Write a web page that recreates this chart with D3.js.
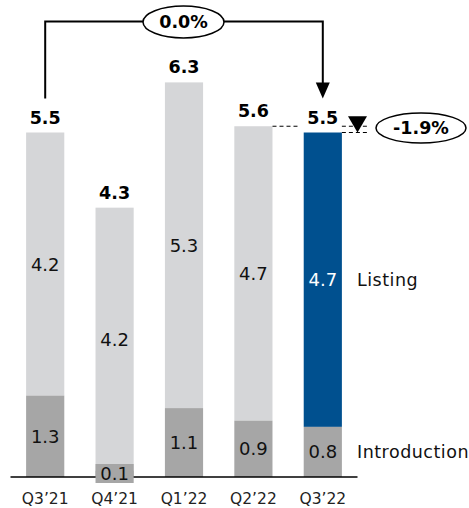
<!DOCTYPE html>
<html><head><meta charset="utf-8">
<script src="https://cdn.jsdelivr.net/npm/d3@7"></script>
<style>html,body{margin:0;padding:0;background:#fff}svg{display:block;font-family:"DejaVu Sans",Verdana,sans-serif}</style>
</head><body><svg id="c" width="469" height="508"></svg>
<script>
const categories = ["Q3\u201921","Q4\u201921","Q1\u201922","Q2\u201922","Q3\u201922"];
const introduction = [1.3, 0.1, 1.1, 0.9, 0.8];
const listing = [4.2, 4.2, 5.3, 4.7, 4.7];
const totals = [5.5, 4.3, 6.3, 5.6, 5.5];
const yoyChange = "0.0%";
const qoqChange = "-1.9%";
const seriesNames = ["Listing", "Introduction"];

const svg = d3.select("#c");
const x = d3.scaleBand().domain(categories).range([10.5, 357.5]).paddingInner(0.45).paddingOuter(0.225);
const y = d3.scaleLinear().domain([0, 5.5]).range([477, 132.5]);
const colIntro = "#a6a6a6", colList = "#d5d6d8", colBlue = "#00508f";
const bw = x.bandwidth();
const cx = c => x(c) + bw / 2;

categories.forEach((c, i) => {
  const top = y(totals[i]), bot = y(introduction[i]);
  svg.append("rect").attr("x", x(c)).attr("y", top).attr("width", bw).attr("height", bot - top)
    .attr("fill", i === 4 ? colBlue : colList);
  svg.append("rect").attr("x", x(c)).attr("y", bot).attr("width", bw).attr("height", y(0) - bot)
    .attr("fill", colIntro);
});

svg.append("line").attr("x1", 10.5).attr("x2", 357.5).attr("y1", y(0)).attr("y2", y(0))
  .attr("stroke", "#000").attr("stroke-width", 1.5);

categories.forEach((c, i) => {
  const top = y(totals[i]), mid = y(introduction[i]);
  svg.append("text").attr("x", cx(c)).attr("y", (top + mid) / 2).attr("dy", "0.36em")
    .attr("text-anchor", "middle").attr("font-size", 18)
    .attr("fill", i === 4 ? "#fff" : "#111").text(listing[i].toFixed(1));
  if (introduction[i] < 0.3) {
    svg.append("rect").attr("x", x(c)).attr("y", y(0) - 13).attr("width", bw).attr("height", 19).attr("fill", colIntro);
    svg.append("text").attr("x", cx(c)).attr("y", y(0) - 3).attr("dy", "0.36em")
      .attr("text-anchor", "middle").attr("font-size", 18).attr("fill", "#111").text(introduction[i].toFixed(1));
  } else {
    svg.append("text").attr("x", cx(c)).attr("y", (mid + y(0)) / 2).attr("dy", "0.36em")
      .attr("text-anchor", "middle").attr("font-size", 18).attr("fill", "#111").text(introduction[i].toFixed(1));
  }
  svg.append("text").attr("x", cx(c)).attr("y", top - 9)
    .attr("text-anchor", "middle").attr("font-size", 17.5).attr("font-weight", "bold").attr("fill", "#000")
    .text(totals[i].toFixed(1));
  svg.append("text").attr("x", cx(c)).attr("y", 504)
    .attr("text-anchor", "middle").attr("font-size", 15.5).attr("fill", "#222").text(c);
});

const last = categories[4];
svg.append("text").attr("x", 357).attr("y", (y(totals[4]) + y(introduction[4])) / 2).attr("dy", "0.36em")
  .attr("font-size", 17.5).attr("letter-spacing", 0.5).attr("fill", "#111").text(seriesNames[0]);
svg.append("text").attr("x", 357).attr("y", (y(introduction[4]) + y(0)) / 2).attr("dy", "0.36em")
  .attr("font-size", 17.5).attr("letter-spacing", 0.5).attr("fill", "#111").text(seriesNames[1]);

const x0 = cx(categories[0]), x4 = cx(last), yTop = 21.5;
svg.append("path").attr("d", `M${x0},${y(totals[0]) - 34} V${yTop} H${x4} V${y(totals[4]) - 48}`)
  .attr("fill", "none").attr("stroke", "#000").attr("stroke-width", 2);
svg.append("path").attr("d", `M${x4 - 7},${y(totals[4]) - 50} L${x4 + 7},${y(totals[4]) - 50} L${x4},${y(totals[4]) - 34} Z`)
  .attr("fill", "#000");
svg.append("ellipse").attr("cx", 183.5).attr("cy", 22).attr("rx", 40.5).attr("ry", 16)
  .attr("fill", "#fff").attr("stroke", "#000").attr("stroke-width", 1.5);
svg.append("text").attr("x", 183.5).attr("y", 22).attr("dy", "0.36em").attr("text-anchor", "middle")
  .attr("font-size", 17.5).attr("font-weight", "bold").text(yoyChange);

const yPrev = y(totals[3]), yCur = y(totals[4]);
const dash = (x1, x2, yy) => svg.append("line").attr("x1", x1).attr("x2", x2).attr("y1", yy).attr("y2", yy)
  .attr("stroke", "#000").attr("stroke-width", 1).attr("stroke-dasharray", "4,3");
dash(x(categories[3]) + bw, 298, yPrev);
dash(x(last) + bw, 367, yPrev);
dash(x(last) + bw, 367, yCur);
svg.append("path").attr("d", `M348,${yPrev - 10} L367,${yPrev - 10} L357.5,${yCur} Z`).attr("fill", "#000");
svg.append("ellipse").attr("cx", 421).attr("cy", 128).attr("rx", 45).attr("ry", 15)
  .attr("fill", "#fff").attr("stroke", "#000").attr("stroke-width", 1.5);
svg.append("text").attr("x", 421).attr("y", 128).attr("dy", "0.36em").attr("text-anchor", "middle")
  .attr("font-size", 17.5).attr("font-weight", "bold").text(qoqChange);
</script></body></html>
